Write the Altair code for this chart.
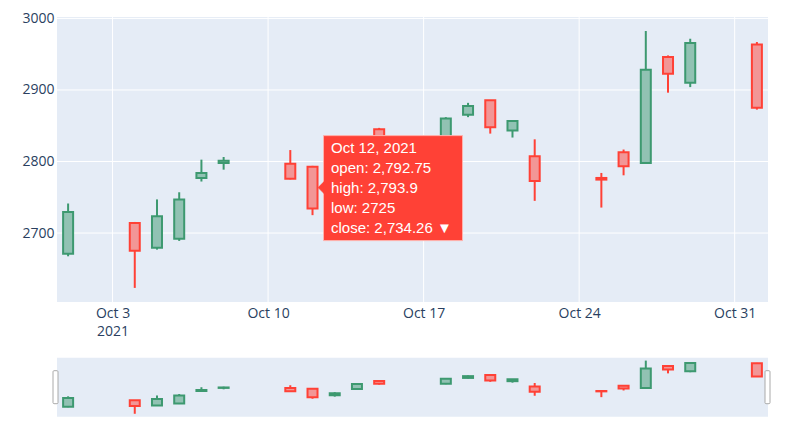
import altair as alt
import pandas as pd

# ---- data ----
dates = ["2021-10-01", "2021-10-04", "2021-10-05", "2021-10-06", "2021-10-07", "2021-10-08",
         "2021-10-11", "2021-10-12", "2021-10-13", "2021-10-14", "2021-10-15",
         "2021-10-18", "2021-10-19", "2021-10-20", "2021-10-21", "2021-10-22",
         "2021-10-25", "2021-10-26", "2021-10-27", "2021-10-28", "2021-10-29",
         "2021-11-01"]
open_ = [2671.0, 2714.0, 2679.5, 2692.0, 2777.0, 2798.0,
         2797.0, 2792.75, 2748.0, 2790.0, 2845.0,
         2826.0, 2865.5, 2885.5, 2843.5, 2807.3,
         2777.0, 2812.8, 2798.0, 2946.0, 2910.0,
         2963.7]
high = [2741.3, 2715.5, 2747.0, 2757.0, 2802.6, 2806.3,
        2816.0, 2793.9, 2769.0, 2828.0, 2847.0,
        2862.0, 2882.0, 2886.0, 2857.0, 2831.0,
        2784.0, 2816.7, 2982.4, 2948.3, 2971.6,
        2967.0]
low = [2667.5, 2623.3, 2676.8, 2689.0, 2772.0, 2788.6,
       2775.0, 2725.0, 2739.0, 2784.0, 2820.0,
       2823.0, 2862.0, 2839.0, 2833.5, 2745.0,
       2735.6, 2780.7, 2797.0, 2896.2, 2904.0,
       2872.5]
close = [2729.3, 2675.3, 2723.5, 2747.0, 2784.0, 2801.0,
         2776.0, 2734.26, 2762.0, 2825.0, 2826.0,
         2860.0, 2877.5, 2848.0, 2856.5, 2772.8,
         2774.7, 2793.3, 2928.4, 2922.8, 2965.5,
         2875.3]

y_ticks = [2700, 2800, 2900, 3000]
x_tick_days = [3, 10, 17, 24, 31]

hover_date = "2021-10-12"
hover_lines = ["Oct 12, 2021", "open: 2,792.75", "high: 2,793.9", "low: 2725", "close: 2,734.26 \u25BC"]

# ---- frames ----
df = pd.DataFrame({"date": dates, "open": open_, "high": high, "low": low, "close": close})
df["dir"] = ["up" if c >= o else "down" for o, c in zip(open_, close)]

xgrid_df = pd.DataFrame({"date": [f"2021-10-{d:02d}" for d in x_tick_days]})
ygrid_df = pd.DataFrame({"v": y_ticks})
i = dates.index(hover_date)
hover_df = pd.DataFrame({"date": [hover_date], "mid": [(open_[i] + close[i]) / 2]})

# ---- geometry ----
W, H = 711, 400
MAIN_H = 285
MINI_TOP, MINI_BOT = 340.7, 399.7
YDOM = [2603.6, 3002.0]

TEXT = "#2a3f5f"
BG = "#E5ECF6"
UP, DOWN = "#3D9970", "#FF4136"
UP_FILL, DOWN_FILL = "#91C2B3", "#F29696"

xscale = alt.Scale(type="utc", nice=False, padding=0,
                   domain=[alt.DateTime(year=2021, month=9, date=30, hours=12, utc=True),
                           alt.DateTime(year=2021, month=11, date=1, hours=12, utc=True)])
xaxis = alt.Axis(
    values=[alt.DateTime(year=2021, month=10, date=d, utc=True) for d in x_tick_days],
    labelExpr="datum.index === 0 ? [utcFormat(datum.value, '%b %-d'), utcFormat(datum.value, '%Y')] : utcFormat(datum.value, '%b %-d')",
    grid=False, ticks=False, domain=False, title=None,
    offset=-(H - MAIN_H), labelPadding=4, labelFont="Open Sans", labelFontSize=14,
    labelColor=TEXT, labelLineHeight=18, labelFlush=False, labelOverlap=False, labelBound=False,
)


def X():
    return alt.X("date:T", scale=xscale, axis=xaxis)


def ymain(field, axis=None):
    return alt.Y(field, type="quantitative",
                 scale=alt.Scale(domain=YDOM, range=[MAIN_H, 0], nice=False, zero=False, padding=0), axis=axis)


def ymini(field):
    return alt.Y(field, type="quantitative",
                 scale=alt.Scale(domain=YDOM, range=[MINI_BOT, MINI_TOP], nice=False, zero=False, padding=0), axis=None)


def y2(field):
    return alt.Y2(field)


stroke_enc = alt.Stroke("dir:N", scale=alt.Scale(domain=["up", "down"], range=[UP, DOWN]), legend=None)
fill_enc = alt.Fill("dir:N", scale=alt.Scale(domain=["up", "down"], range=[UP_FILL, DOWN_FILL]), legend=None)

base = alt.Chart(df)

bg_main = alt.Chart(hover_df).mark_rect(color=BG).encode(
    x=alt.value(0), x2=alt.value(W), y=alt.value(0), y2=alt.value(MAIN_H))
bg_mini = alt.Chart(hover_df).mark_rect(color=BG).encode(
    x=alt.value(0), x2=alt.value(W), y=alt.value(MINI_TOP), y2=alt.value(MINI_BOT))

xgrid = alt.Chart(xgrid_df).mark_rule(color="white", strokeWidth=1).encode(
    x=X(), y=alt.value(0), y2=alt.value(MAIN_H))
ygrid = alt.Chart(ygrid_df).mark_rule(color="white", strokeWidth=1).encode(
    y=ymain("v", alt.Axis(values=y_ticks, format="d", grid=False, ticks=False, domain=False, title=None,
                          labelPadding=3, labelFont="Open Sans", labelFontSize=14, labelColor=TEXT,
                          labelFlush=False)),
    x=alt.value(0), x2=alt.value(W))

wick = base.mark_rule(strokeWidth=2).encode(x=X(), y=ymain("low"), y2=y2("high"), stroke=stroke_enc)
body = base.mark_bar(width=10, strokeWidth=2).encode(
    x=X(), y=ymain("open"), y2=y2("close"), stroke=stroke_enc, fill=fill_enc)

mwick = base.mark_rule(strokeWidth=2).encode(x=X(), y=ymini("low"), y2=y2("high"), stroke=stroke_enc)
mbody = base.mark_bar(width=10, strokeWidth=2).encode(
    x=X(), y=ymini("open"), y2=y2("close"), stroke=stroke_enc, fill=fill_enc)

hc = (MINI_TOP + MINI_BOT) / 2
handle_l = alt.Chart(hover_df).mark_rect(fill="white", stroke="#aaaaaa", strokeWidth=1, cornerRadius=1).encode(
    x=alt.value(-4), x2=alt.value(1), y=alt.value(hc - 16.5), y2=alt.value(hc + 16.5))
handle_r = alt.Chart(hover_df).mark_rect(fill="white", stroke="#aaaaaa", strokeWidth=1, cornerRadius=1).encode(
    x=alt.value(W - 3), x2=alt.value(W + 2), y=alt.value(hc - 16.5), y2=alt.value(hc + 16.5))

tip_box = alt.Chart(hover_df).mark_rect(
    fill=DOWN, stroke="#ffb3ad", strokeWidth=1, xOffset=11, x2Offset=150, yOffset=-52, y2Offset=53
).encode(x=X(), x2=alt.X2("date"), y=ymain("mid"), y2=alt.Y2("mid"))
tip_arrow = alt.Chart(hover_df).mark_point(
    shape="M -1 0 L 0 -1 L 0 1 Z", size=144, filled=True, fill=DOWN, stroke=DOWN, strokeWidth=0.5,
    opacity=1, xOffset=11.5
).encode(x=X(), y=ymain("mid"))
tip_text = alt.Chart(hover_df).mark_text(
    align="left", baseline="middle", dx=18.5, dy=-40, lineHeight=20, font="Arial", fontSize=15, color="white"
).encode(x=X(), y=ymain("mid"), text=alt.value(hover_lines))

chart = alt.layer(
    bg_main, bg_mini, xgrid, ygrid, wick, body, mwick, mbody, handle_l, handle_r,
    tip_box, tip_arrow, tip_text
).resolve_scale(y="independent", fill="independent", stroke="independent").properties(
    width=W, height=H,
    autosize=alt.AutoSizeParams(type="none"),
    padding={"left": 57, "top": 17, "right": 800 - 57 - W, "bottom": 445 - 17 - H},
    background="white",
).configure_view(stroke=None)

chart.save("out.html", embed_options={"renderer": "svg", "actions": False})
